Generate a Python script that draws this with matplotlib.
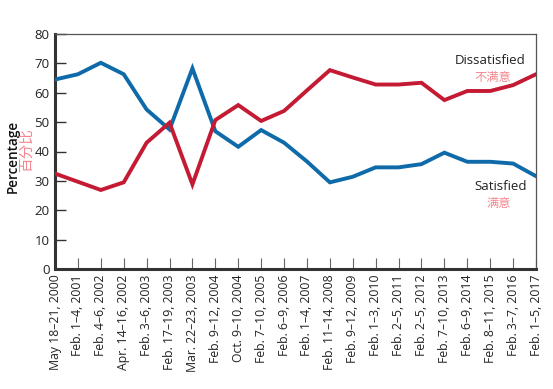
import matplotlib
matplotlib.use("Agg")
import matplotlib.pyplot as plt

categories = ["May 18\u201321, 2000", "Feb. 1\u20134, 2001", "Feb. 4\u20136, 2002", "Apr. 14\u201316, 2002",
              "Feb. 3\u20136, 2003", "Feb. 17\u201319, 2003", "Mar. 22\u201323, 2003", "Feb. 9\u201312, 2004",
              "Oct. 9\u201310, 2004", "Feb. 7\u201310, 2005", "Feb. 6\u20139, 2006", "Feb. 1\u20134, 2007",
              "Feb. 11\u201314, 2008", "Feb. 9\u201312, 2009", "Feb. 1\u20133, 2010", "Feb. 2\u20135, 2011",
              "Feb. 2\u20135, 2012", "Feb. 7\u201310, 2013", "Feb. 6\u20139, 2014", "Feb. 8\u201311, 2015",
              "Feb. 3\u20137, 2016", "Feb. 1\u20135, 2017"]
satisfied = [64.5, 66.3, 70.2, 66.3, 54.3, 47.5, 68.3, 46.9, 41.6, 47.3, 43.0, 36.6,
             29.5, 31.4, 34.6, 34.6, 35.7, 39.6, 36.5, 36.5, 35.9, 31.6]
dissatisfied = [32.5, 29.7, 26.9, 29.5, 43.0, 49.8, 28.8, 50.7, 55.8, 50.4, 53.8, 60.8,
                67.7, 65.2, 62.8, 62.8, 63.4, 57.5, 60.6, 60.6, 62.6, 66.3]
yticks = [0, 10, 20, 30, 40, 50, 60, 70, 80]

plt.rcParams['font.family'] = ['Open Sans', 'Noto Sans CJK SC', 'DejaVu Sans']

W, H = 553, 389
fig = plt.figure(figsize=(W / 100, H / 100), dpi=100)
ax = fig.add_axes([55 / W, 1 - 269 / H, (536 - 55) / W, (269 - 34) / H])

x = list(range(len(categories)))
blue = "#0e6aa8"
red = "#c41a33"
pink = "#f4878f"
ax.plot(x, satisfied, color=blue, lw=2.8, solid_joinstyle="miter", zorder=3)
ax.plot(x, dissatisfied, color=red, lw=2.8, solid_joinstyle="miter", zorder=3)

ax.set_xlim(0, len(categories) - 1)
ax.set_ylim(0, 80)
ax.set_yticks(yticks)
ax.set_yticklabels([str(v) for v in yticks], fontsize=9.5, color="#222222")
ax.set_xticks(x)
ax.set_xticklabels(categories, rotation=90, fontsize=8.8, color="#222222")

for s in ["left", "bottom"]:
    ax.spines[s].set_linewidth(2.2)
    ax.spines[s].set_color("#333333")
for s in ["top", "right"]:
    ax.spines[s].set_linewidth(0.9)
    ax.spines[s].set_color("#555555")
ax.tick_params(axis="y", direction="in", length=8, width=1, color="#333333", pad=4)
ax.tick_params(axis="x", direction="in", length=8, width=0.8, color="#666666", pad=4)

fig.text(13 / W, 1 - 156 / H, "Percentage", rotation=90, ha="center", va="center",
         fontsize=9.8, fontweight="semibold", color="#111111")
fig.text(27 / W, 1 - 150 / H, "百分比", rotation=90, ha="center", va="center",
         fontsize=10.5, color=pink, family=["Noto Sans CJK SC", "DejaVu Sans"])

fig.text(526 / W, 1 - 60 / H, "Dissatisfied", ha="right", va="center", fontsize=9.5, color="#222222")
fig.text(493 / W, 1 - 78 / H, "不满意", ha="center", va="center", fontsize=8.8, color=pink,
         family=["Noto Sans CJK SC", "DejaVu Sans"])
fig.text(527 / W, 1 - 186 / H, "Satisfied", ha="right", va="center", fontsize=9.5, color="#222222")
fig.text(499 / W, 1 - 203 / H, "满意", ha="center", va="center", fontsize=8.8, color=pink,
         family=["Noto Sans CJK SC", "DejaVu Sans"])

fig.savefig("out.png", dpi=100)
